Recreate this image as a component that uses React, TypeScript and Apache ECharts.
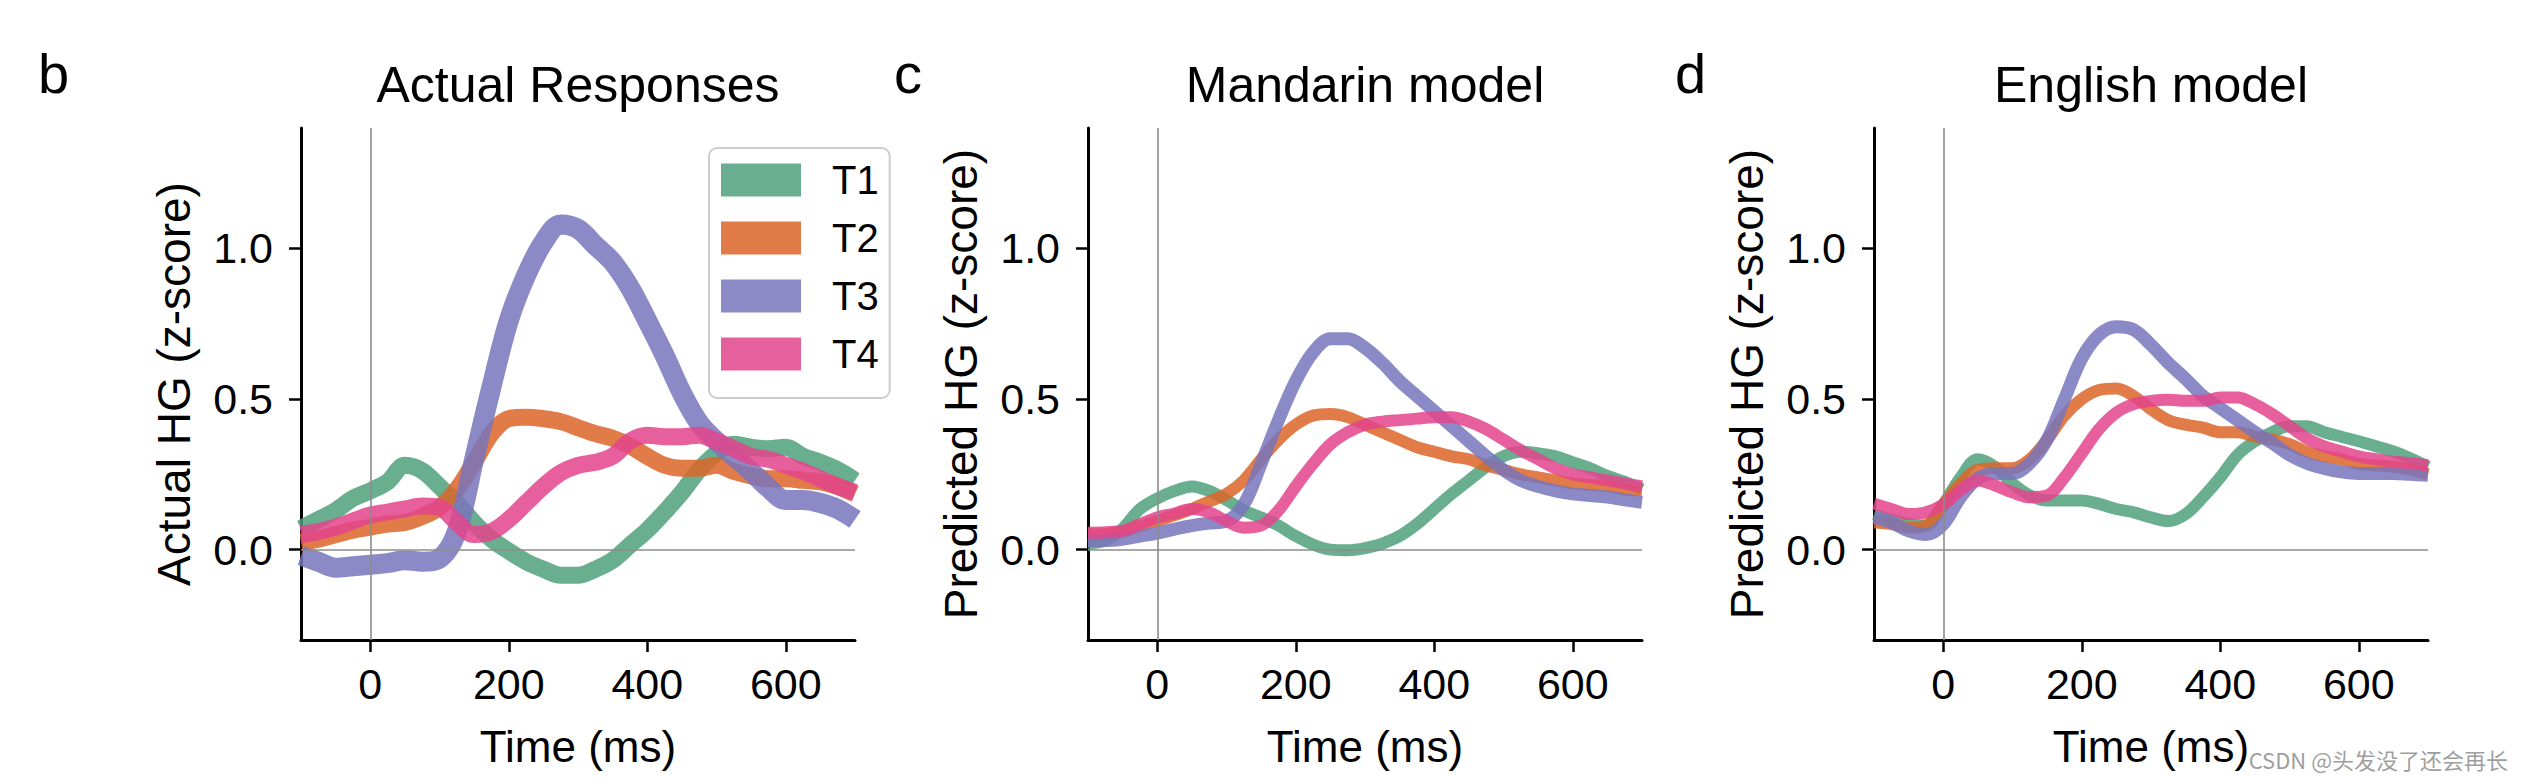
import React, { useEffect, useRef } from "react";
import * as echarts from "echarts";

// ---------------- data ----------------
const times = [
  -100, -75, -50, -25, 0, 25, 50, 75, 100, 125, 150, 175, 200, 225, 250, 275, 300,
  325, 350, 375, 400, 425, 450, 475, 500, 525, 550, 575, 600, 625, 650, 675, 700,
];

const tones = ["T1", "T2", "T3", "T4"];
const xTicks = [0, 200, 400, 600];
const yTicks = [0, 0.5, 1.0];

// b: Actual Responses
const actualT1 = [0.07, 0.1, 0.13, 0.17, 0.195, 0.225, 0.28, 0.262, 0.21, 0.155, 0.09, 0.035, -0.005, -0.04, -0.065, -0.085, -0.085, -0.065, -0.035, 0.015, 0.065, 0.125, 0.19, 0.265, 0.32, 0.35, 0.34, 0.335, 0.34, 0.31, 0.29, 0.265, 0.23];
const actualT2 = [0.025, 0.035, 0.05, 0.065, 0.075, 0.085, 0.09, 0.11, 0.14, 0.2, 0.29, 0.385, 0.435, 0.44, 0.435, 0.425, 0.405, 0.385, 0.37, 0.345, 0.31, 0.28, 0.27, 0.27, 0.28, 0.26, 0.245, 0.235, 0.235, 0.23, 0.225, 0.21, 0.185];
const actualT3 = [-0.02, -0.04, -0.06, -0.055, -0.05, -0.045, -0.035, -0.04, -0.03, 0.06, 0.3, 0.54, 0.76, 0.91, 1.02, 1.08, 1.065, 1.01, 0.955, 0.87, 0.76, 0.645, 0.52, 0.42, 0.36, 0.31, 0.26, 0.205, 0.165, 0.165, 0.155, 0.135, 0.1];
const actualT4 = [0.05, 0.06, 0.075, 0.095, 0.115, 0.125, 0.135, 0.145, 0.14, 0.09, 0.05, 0.06, 0.1, 0.155, 0.21, 0.255, 0.28, 0.29, 0.31, 0.36, 0.38, 0.375, 0.375, 0.38, 0.36, 0.335, 0.31, 0.3, 0.28, 0.26, 0.235, 0.21, 0.19];

// c: Mandarin model
const mandarinT1 = [0.02, 0.03, 0.07, 0.135, 0.17, 0.195, 0.21, 0.195, 0.165, 0.13, 0.107, 0.08, 0.045, 0.017, 0.0, -0.002, 0.005, 0.02, 0.045, 0.085, 0.135, 0.185, 0.23, 0.275, 0.31, 0.325, 0.32, 0.31, 0.29, 0.27, 0.245, 0.225, 0.2];
const mandarinT2 = [0.05, 0.052, 0.06, 0.078, 0.095, 0.115, 0.135, 0.16, 0.185, 0.23, 0.3, 0.365, 0.415, 0.445, 0.45, 0.44, 0.415, 0.39, 0.365, 0.34, 0.325, 0.31, 0.3, 0.28, 0.265, 0.25, 0.24, 0.23, 0.22, 0.215, 0.21, 0.2, 0.195];
const mandarinT3 = [0.03, 0.03, 0.035, 0.045, 0.055, 0.068, 0.08, 0.088, 0.095, 0.15, 0.285, 0.43, 0.56, 0.655, 0.7, 0.7, 0.67, 0.62, 0.56, 0.51, 0.46, 0.41, 0.36, 0.31, 0.265, 0.23, 0.21, 0.195, 0.185, 0.18, 0.175, 0.165, 0.157];
const mandarinT4 = [0.056, 0.058, 0.062, 0.085, 0.107, 0.12, 0.135, 0.124, 0.095, 0.073, 0.08, 0.13, 0.21, 0.285, 0.35, 0.39, 0.415, 0.425, 0.43, 0.435, 0.44, 0.44, 0.425, 0.4, 0.365, 0.33, 0.3, 0.27, 0.25, 0.24, 0.23, 0.22, 0.21];

// d: English model
const englishT1 = [0.118, 0.1, 0.085, 0.08, 0.15, 0.24, 0.3, 0.275, 0.22, 0.18, 0.163, 0.163, 0.163, 0.152, 0.135, 0.124, 0.107, 0.095, 0.118, 0.174, 0.24, 0.315, 0.36, 0.39, 0.41, 0.41, 0.39, 0.375, 0.36, 0.343, 0.326, 0.303, 0.275];
const englishT2 = [0.09, 0.085, 0.073, 0.08, 0.15, 0.22, 0.265, 0.27, 0.27, 0.3, 0.365, 0.445, 0.5, 0.53, 0.535, 0.51, 0.466, 0.43, 0.415, 0.405, 0.39, 0.39, 0.376, 0.365, 0.35, 0.325, 0.31, 0.3, 0.285, 0.28, 0.275, 0.265, 0.25];
const englishT3 = [0.107, 0.09, 0.062, 0.05, 0.084, 0.174, 0.236, 0.253, 0.253, 0.287, 0.365, 0.5, 0.635, 0.713, 0.74, 0.73, 0.68, 0.62, 0.567, 0.51, 0.47, 0.43, 0.39, 0.354, 0.315, 0.287, 0.27, 0.258, 0.253, 0.253, 0.253, 0.25, 0.247];
const englishT4 = [0.152, 0.135, 0.118, 0.124, 0.15, 0.197, 0.23, 0.213, 0.19, 0.174, 0.18, 0.24, 0.32, 0.4, 0.455, 0.483, 0.494, 0.498, 0.494, 0.494, 0.505, 0.505, 0.483, 0.45, 0.41, 0.37, 0.343, 0.326, 0.31, 0.3, 0.292, 0.287, 0.28];

const panelLetters = ["b", "c", "d"];
const panelTitles = ["Actual Responses", "Mandarin model", "English model"];
const yNames = ["Actual HG (z-score)", "Predicted HG (z-score)", "Predicted HG (z-score)"];
const xName = "Time (ms)";
const panelData = [
  [actualT1, actualT2, actualT3, actualT4],
  [mandarinT1, mandarinT2, mandarinT3, mandarinT4],
  [englishT1, englishT2, englishT3, englishT4],
];

// ---------------- styles ----------------
const FONT = "'Liberation Sans', Arial, Helvetica, sans-serif";
const lineColors = ["#50a07c", "#dc6528", "#7876bc", "#e3448c"];
const legendColors = ["#6aae91", "#e17c48", "#8b89c6", "#e6609d"];
const gridLefts = [301, 1088, 1874];
const letterX = [38, 894, 1675];
const GRID_TOP = 128;
const GRID_W = 554;
const GRID_H = 512;
const bandWidths = [
  [17, 17, 20, 17],
  [12, 12, 13, 12],
  [12, 12, 13, 12],
];

export default function App() {
  const ref = useRef<HTMLDivElement>(null);

  useEffect(() => {
    if (!ref.current) return;
    const chart = echarts.init(ref.current, undefined, { renderer: "svg" });

    const grids = gridLefts.map((l) => ({ left: l, top: GRID_TOP, width: GRID_W, height: GRID_H }));

    const xAxes = gridLefts.map((_, i) => ({
      type: "value",
      gridIndex: i,
      min: -100,
      max: 700,
      axisLine: { show: true, onZero: false, lineStyle: { color: "#000", width: 3 } },
      axisTick: { show: true, customValues: xTicks, length: 12, lineStyle: { color: "#000", width: 2.5 } },
      axisLabel: { customValues: xTicks, fontSize: 43, color: "#000", margin: 22, fontFamily: FONT },
      splitLine: { show: false },
      name: xName,
      nameLocation: "middle",
      nameGap: 84,
      nameTextStyle: { fontSize: 44, color: "#000", fontFamily: FONT },
    }));

    const yAxes = gridLefts.map((_, i) => ({
      type: "value",
      gridIndex: i,
      min: -0.3,
      max: 1.4,
      axisLine: { show: true, onZero: false, lineStyle: { color: "#000", width: 3 } },
      axisTick: { show: true, customValues: yTicks, length: 12, lineStyle: { color: "#000", width: 2.5 } },
      axisLabel: {
        customValues: yTicks,
        formatter: (v: number) => v.toFixed(1),
        fontSize: 43,
        color: "#000",
        margin: 28,
        fontFamily: FONT,
      },
      splitLine: { show: false },
      name: yNames[i],
      nameLocation: "middle",
      nameGap: 104,
      nameTextStyle: { fontSize: 46, color: "#000", fontFamily: FONT },
    }));

    const series: any[] = [];
    gridLefts.forEach((_, i) => {
      series.push({
        type: "line",
        xAxisIndex: i,
        yAxisIndex: i,
        data: [],
        z: 1,
        silent: true,
        markLine: {
          silent: true,
          symbol: ["none", "none"],
          label: { show: false },
          lineStyle: { color: "#8c8c8c", width: 1.6, type: "solid" },
          data: [{ xAxis: 0 }, { yAxis: 0 }],
        },
      });
      tones.forEach((t, k) => {
        series.push({
          type: "line",
          name: t,
          xAxisIndex: i,
          yAxisIndex: i,
          data: times.map((tm, j) => [tm, panelData[i][k][j]]),
          smooth: 0.35,
          showSymbol: false,
          symbol: "none",
          silent: true,
          z: 3,
          lineStyle: { color: lineColors[k], width: bandWidths[i][k], opacity: 0.85, cap: "butt" },
          itemStyle: { color: legendColors[k] },
        });
      });
    });

    const graphics: any[] = [];
    gridLefts.forEach((l, i) => {
      graphics.push({
        type: "text",
        x: l + GRID_W / 2,
        y: 85,
        style: {
          text: panelTitles[i],
          font: `50px ${FONT}`,
          fill: "#000",
          align: "center",
          verticalAlign: "middle",
          textAlign: "center",
          textVerticalAlign: "middle",
        },
      });
      graphics.push({
        type: "text",
        x: letterX[i],
        y: 73,
        style: {
          text: panelLetters[i],
          font: `56px ${FONT}`,
          fill: "#000",
          align: "left",
          verticalAlign: "middle",
          textAlign: "left",
          textVerticalAlign: "middle",
        },
      });
    });
    graphics.push({
      type: "text",
      x: 2508,
      y: 759,
      style: {
        text: "CSDN @头发没了还会再长",
        font: `22px 'Noto Sans CJK SC', ${FONT}`,
        fill: "rgba(140,140,140,0.85)",
        align: "right",
        verticalAlign: "middle",
        textAlign: "right",
        textVerticalAlign: "middle",
      },
    });

    chart.setOption({
      animation: false,
      backgroundColor: "#ffffff",
      textStyle: { fontFamily: FONT },
      grid: grids,
      xAxis: xAxes,
      yAxis: yAxes,
      legend: {
        data: tones.map((t, k) => ({
          name: t,
          icon: "rect",
          itemStyle: { color: legendColors[k], borderWidth: 0, opacity: 1 },
        })),
        orient: "vertical",
        left: 709,
        top: 148,
        itemWidth: 80,
        itemHeight: 33,
        itemGap: 18,
        padding: [12, 11, 24, 12],
        borderColor: "#cccccc",
        borderWidth: 2,
        borderRadius: 8,
        backgroundColor: "rgba(255,255,255,0.8)",
        selectedMode: false,
        textStyle: { fontSize: 40, color: "#000", padding: [0, 0, 0, 26], fontFamily: FONT },
      },
      series,
      graphic: graphics,
    });

    return () => chart.dispose();
  }, []);

  return (
    <div
      ref={ref}
      style={{ position: "fixed", left: 0, top: 0, width: 2524, height: 778, background: "#fff" }}
    />
  );
}
